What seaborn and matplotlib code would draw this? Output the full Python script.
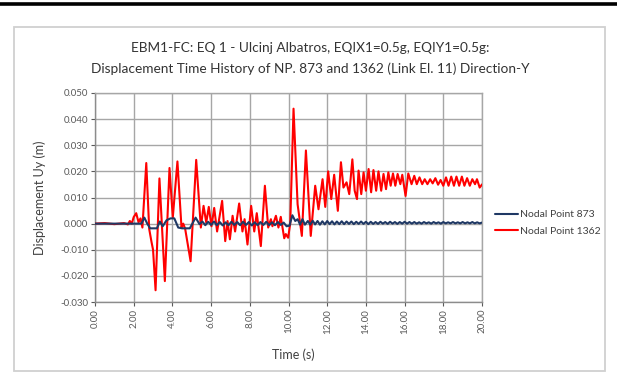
import numpy as np
import pandas as pd
import matplotlib
matplotlib.use("Agg")
import matplotlib.pyplot as plt
import seaborn as sns
from matplotlib.ticker import FuncFormatter
from matplotlib.lines import Line2D
from matplotlib.patches import Rectangle

# ---------------- data ----------------
series_names = ["Nodal Point 873", "Nodal Point 1362"]
series_colors = ["#1F3864", "#FF0000"]

blue_t = [0.00, 1.00, 2.00, 2.40, 2.55, 2.70, 2.85, 3.20, 3.35, 3.50, 3.70, 3.90,
          4.10, 4.30, 4.50, 4.90, 5.20, 5.40,
          5.55, 5.70, 5.85, 6.00, 6.15, 6.30, 6.45, 6.60, 6.75, 6.90,
          7.05, 7.20, 7.35, 7.50, 7.65, 7.80, 7.95, 8.10, 8.25, 8.40,
          8.55, 8.70, 8.85, 9.00, 9.15, 9.30, 9.45, 9.60, 9.75, 9.90,
          10.05, 10.20, 10.35, 10.47, 10.60, 10.72, 10.85,
          11.000, 11.125, 11.250, 11.375, 11.500, 11.625, 11.750, 11.875,
          12.000, 12.125, 12.250, 12.375, 12.500, 12.625, 12.750, 12.875,
          13.000, 13.125, 13.250, 13.375, 13.500, 13.625, 13.750, 13.875,
          14.000, 14.125, 14.250, 14.375, 14.500, 14.625, 14.750, 14.875,
          15.000, 15.125, 15.250, 15.375, 15.500, 15.625, 15.750, 15.875,
          16.000, 16.125, 16.250, 16.375, 16.500, 16.625, 16.750, 16.875,
          17.000, 17.125, 17.250, 17.375, 17.500, 17.625, 17.750, 17.875,
          18.000, 18.125, 18.250, 18.375, 18.500, 18.625, 18.750, 18.875,
          19.000, 19.125, 19.250, 19.375, 19.500, 19.625, 19.750, 19.875,
          20.000]
blue_v = [0.0000, 0.0000, 0.0000, 0.0000, 0.0023, 0.0000, -0.0018, -0.0018, 0.0008, -0.0010, 0.0013, 0.0020,
          0.0020, -0.0015, -0.0018, -0.0018, 0.0023, -0.0002,
          0.0008, -0.0006, 0.0007, -0.0005, 0.0008, -0.0006, 0.0006, -0.0007, 0.0005, -0.0006,
          0.0007, -0.0005, 0.0006, -0.0006, 0.0007, -0.0005, 0.0006, -0.0007, 0.0005, -0.0006,
          0.0006, -0.0005, 0.0007, -0.0006, 0.0005, -0.0006, 0.0006, -0.0005, 0.0004, -0.0010,
          -0.0008, 0.0032, 0.0010, 0.0017, -0.0004, 0.0017, -0.0004,
          0.0010, -0.0004, 0.0011, -0.0003, 0.0010, -0.0004, 0.0009, -0.0003,
          0.0010, -0.0002, 0.0009, -0.0003, 0.0008, -0.0002, 0.0009, -0.0002,
          0.0008, -0.0001, 0.0008, -0.0002, 0.0007, -0.0001, 0.0008, -0.0001,
          0.0007, -0.0002, 0.0007, -0.0001, 0.0006, -0.0001, 0.0007, 0.0000,
          0.0006, -0.0001, 0.0007, 0.0000, 0.0006, -0.0001, 0.0006, 0.0000,
          0.0007, 0.0000, 0.0006, 0.0000, 0.0006, 0.0000, 0.0005, 0.0000,
          0.0006, 0.0001, 0.0005, 0.0000, 0.0006, 0.0001, 0.0005, 0.0000,
          0.0006, 0.0001, 0.0005, 0.0001, 0.0006, 0.0001, 0.0005, 0.0001,
          0.0006, 0.0001, 0.0005, 0.0001, 0.0006, 0.0001, 0.0005, 0.0001,
          0.0004]

red_t = [0.00, 0.50, 1.00, 1.50, 1.70, 1.80, 1.90, 2.00, 2.13, 2.25, 2.35, 2.45,
         2.65, 2.80, 2.92, 3.00, 3.13, 3.33, 3.61, 3.85, 4.02, 4.26, 4.47, 4.56,
         4.66, 4.94, 5.23, 5.47, 5.61, 5.75, 5.88, 6.02, 6.16, 6.31, 6.57, 6.73,
         6.85, 6.97, 7.11, 7.24, 7.45, 7.62, 7.73, 7.88, 8.07, 8.23, 8.36, 8.57,
         8.78, 8.95, 9.09, 9.17, 9.35, 9.48, 9.60, 9.78, 9.86, 9.98, 10.09, 10.26,
         10.47, 10.69, 10.90, 11.15, 11.38, 11.55, 11.76, 11.90, 12.05, 12.21, 12.36, 12.55,
         12.71, 12.84, 13.00, 13.14, 13.30, 13.42, 13.54, 13.62, 13.76, 13.88, 14.00, 14.14,
         14.27, 14.39, 14.53, 14.65, 14.79, 14.91, 15.04, 15.16, 15.28, 15.40, 15.52, 15.64,
         15.78, 15.88, 16.05, 16.19, 16.36, 16.50, 16.63, 16.77, 16.91, 17.04, 17.18, 17.32,
         17.45, 17.59, 17.73, 17.86, 18.00, 18.14, 18.27, 18.41, 18.55, 18.68, 18.82, 18.96,
         19.09, 19.23, 19.37, 19.50, 19.64, 19.74, 19.88, 20.00]
red_v = [0.0000, 0.0002, -0.0002, 0.0002, -0.0003, 0.0010, 0.0000, 0.0025, 0.0040, 0.0005, 0.0020, -0.0015,
         0.0232, -0.0020, -0.0070, -0.0100, -0.0255, 0.0173, -0.0220, 0.0213, 0.0023, 0.0238, -0.0015, 0.0000,
         -0.0020, -0.0144, 0.0244, -0.0015, 0.0068, 0.0004, 0.0064, -0.0010, 0.0060, -0.0030, 0.0087, -0.0067,
         0.0010, -0.0060, 0.0030, -0.0030, 0.0077, -0.0030, 0.0017, -0.0080, 0.0068, -0.0030, 0.0040, -0.0086,
         0.0145, -0.0015, 0.0017, -0.0010, 0.0030, -0.0015, 0.0026, -0.0056, -0.0040, -0.0054, 0.0000, 0.0440,
         0.0074, -0.0047, 0.0280, -0.0047, 0.0145, 0.0055, 0.0170, 0.0064, 0.0200, 0.0094, 0.0187, 0.0049,
         0.0235, 0.0138, 0.0158, 0.0113, 0.0246, 0.0126, 0.0094, 0.0203, 0.0113, 0.0196, 0.0126, 0.0209,
         0.0120, 0.0205, 0.0126, 0.0200, 0.0126, 0.0190, 0.0132, 0.0196, 0.0145, 0.0192, 0.0145, 0.0190,
         0.0151, 0.0187, 0.0106, 0.0192, 0.0151, 0.0183, 0.0151, 0.0177, 0.0151, 0.0170, 0.0151, 0.0170,
         0.0154, 0.0174, 0.0149, 0.0167, 0.0145, 0.0177, 0.0145, 0.0180, 0.0145, 0.0180, 0.0145, 0.0180,
         0.0145, 0.0174, 0.0145, 0.0170, 0.0151, 0.0170, 0.0138, 0.0150]

x_ticks = [0, 2, 4, 6, 8, 10, 12, 14, 16, 18, 20]
y_ticks = [-0.03, -0.02, -0.01, 0.0, 0.01, 0.02, 0.03, 0.04, 0.05]

title_lines = ["EBM1-FC: EQ 1 - Ulcinj Albatros, EQIX1=0.5g, EQIY1=0.5g:",
               "Displacement Time History of NP. 873 and 1362 (Link El. 11) Direction-Y"]
x_label = "Time (s)"
y_label = "Displacement Uy (m)"

assert len(blue_t) == len(blue_v), (len(blue_t), len(blue_v))
assert len(red_t) == len(red_v), (len(red_t), len(red_v))

df = pd.concat([
    pd.DataFrame({"t": blue_t, "v": blue_v, "series": series_names[0]}),
    pd.DataFrame({"t": red_t, "v": red_v, "series": series_names[1]}),
], ignore_index=True)

# ---------------- drawing ----------------
sns.set_theme(style="white")
plt.rcParams['font.family'] = ['Lato', 'DejaVu Sans']

W, H = 617, 392
fig = plt.figure(figsize=(W / 100, H / 100), dpi=100)
fig.patch.set_facecolor("white")

ax = fig.add_axes([95 / W, (H - 302) / H, 387 / W, 209 / H])

sns.lineplot(data=df, x="t", y="v", hue="series", hue_order=series_names,
             palette=dict(zip(series_names, series_colors)),
             estimator=None, sort=False, linewidth=1.5, ax=ax)

for line in ax.lines:
    line.set_solid_joinstyle("round")
    line.set_solid_capstyle("round")
    if line.get_color() in ("#1F3864", "#1f3864"):
        line.set_zorder(4)
    else:
        line.set_zorder(3)

ax.set_xlim(x_ticks[0], x_ticks[-1])
ax.set_ylim(y_ticks[0], y_ticks[-1])
ax.set_xticks(x_ticks)
ax.set_yticks(y_ticks)
ax.xaxis.set_major_formatter(FuncFormatter(lambda v, p: f"{v:.2f}"))
ax.yaxis.set_major_formatter(FuncFormatter(lambda v, p: f"{v:.3f}"))
ax.tick_params(axis="x", labelrotation=90, labelsize=7, colors="#595959",
               length=3, width=0.8, pad=2, direction="out", bottom=True)
ax.tick_params(axis="y", labelsize=7, colors="#595959", length=3, width=0.8,
               pad=2, direction="out", left=True)
for lab in ax.get_xticklabels() + ax.get_yticklabels():
    lab.set_color("#595959")

ax.grid(True, color="#A6A6A6", linewidth=1.0)
ax.set_axisbelow(True)
for side, sp in ax.spines.items():
    sp.set_visible(True)
    sp.set_color("#A6A6A6")
    sp.set_linewidth(1.0)
ax.spines["left"].set_color("#8C8C8C")
ax.spines["bottom"].set_color("#8C8C8C")

ax.set_xlabel("")
ax.set_ylabel("")

sns.move_legend(ax, "center left", bbox_to_anchor=((486 - 95) / 387, (302 - 223) / 209),
                frameon=False, title=None, fontsize=7.5, handlelength=2.2,
                handletextpad=0.2, labelspacing=0.7)
for t in ax.get_legend().get_texts():
    t.set_color("#404040")

# texts
fig.text(310 / W, 1 - 48 / H, title_lines[0], ha="center", va="center",
         fontsize=9.8, color="#333333")
fig.text(310 / W, 1 - 69 / H, title_lines[1], ha="center", va="center",
         fontsize=9.8, color="#333333")
fig.text(40 / W, 1 - 198 / H, y_label, rotation=90, ha="center", va="center",
         fontsize=9, color="#404040")
fig.text(293 / W, 1 - 355 / H, x_label, ha="center", va="center",
         fontsize=9, color="#404040")

# chart border and top rule
fig.patches.append(Rectangle((14 / W, 1 - 371 / H), (605 - 14) / W, (371 - 27) / H,
                             transform=fig.transFigure, fill=False,
                             edgecolor="#D0D0D0", linewidth=1.3))
fig.add_artist(Line2D([0, 1], [1 - 4 / H, 1 - 4 / H], transform=fig.transFigure,
                      color="black", linewidth=2.6))

fig.savefig("out.png", dpi=100, facecolor="white")
